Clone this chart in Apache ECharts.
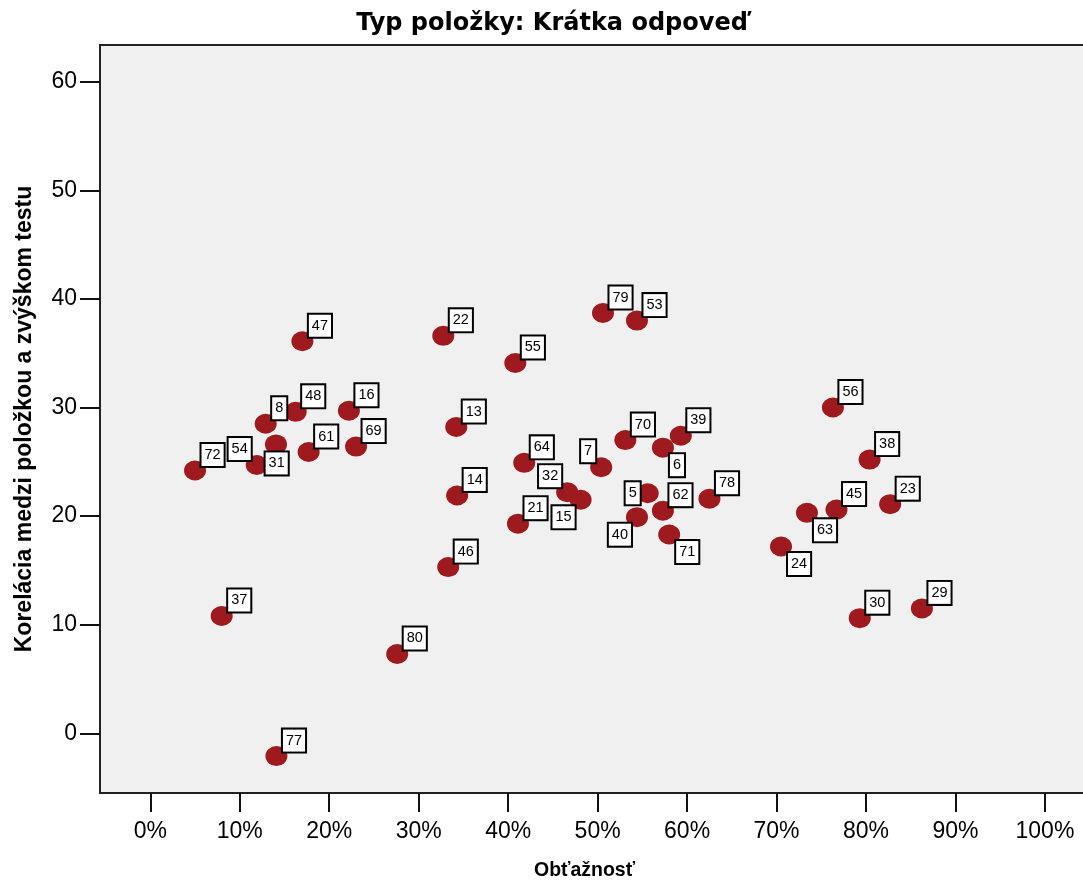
<!DOCTYPE html>
<html><head><meta charset="utf-8">
<script src="https://cdn.jsdelivr.net/npm/echarts@6/dist/echarts.min.js"></script>
<style>html,body{margin:0;padding:0;background:#fff;overflow:hidden}#c{width:1083px;height:884px}</style>
</head><body><div id="c"></div>
<script>
// Item numbers, difficulty (%), item-rest correlation (x100)
const itemIds = ['72','54','31','8','48','47','61','16','69','37','77','80','22','13','14','46','55','64','32','15','21','7','79','53','70','39','6','5','40','62','71','78','24','63','56','45','38','23','30','29'];
const difficulty = [5.0,11.9,14.05,12.9,16.25,17.0,17.7,22.2,23.0,7.98,14.1,27.6,32.75,34.2,34.3,33.3,40.8,41.8,46.6,48.1,41.1,50.4,50.6,54.4,53.1,59.3,57.3,55.6,54.4,57.3,58.0,62.5,70.5,73.4,76.3,76.7,80.4,82.7,79.3,86.25];
const correlation = [24.2,24.7,26.6,28.5,29.6,36.1,25.9,29.7,26.4,10.8,-2.1,7.3,36.6,28.2,21.9,15.3,34.1,24.9,22.2,21.5,19.3,24.5,38.7,38.0,27.0,27.4,26.3,22.1,19.9,20.5,18.3,21.6,17.2,20.3,30.0,20.6,25.2,21.1,10.6,11.5];
// which side of the marker the item label sits on
const labelSide = ['ur','ul','b','ur','ur','ur','ur','ur','ur','ur','ur','ur','ur','ur','ur','ur','ur','ur','ul','ll','ur','ul','ur','ur','ur','ur','lr','l','ll','ur','lr','ur','lr','lr','ur','ur','ur','ur','ur','ur'];
const xTicks = [0,10,20,30,40,50,60,70,80,90,100];
const yTicks = [0,10,20,30,40,50,60];
const titleText = 'Typ položky: Krátka odpoveď';
const xName = 'Obťažnosť';
const yName = 'Korelácia medzi položkou a zvýškom testu';

const placements = {
  ur: {position: [17.5, 5.5], align: 'left', verticalAlign: 'bottom'},
  ul: {position: [5, 5], align: 'right', verticalAlign: 'bottom'},
  lr: {position: [18, 16.5], align: 'left', verticalAlign: 'top'},
  ll: {position: [5, 16.5], align: 'right', verticalAlign: 'top'},
  l:  {position: [3, 10], align: 'right', verticalAlign: 'middle'},
  b:  {position: [11.7, 18], align: 'center', verticalAlign: 'top'}
};

const data = itemIds.map((id, i) => ({
  value: [difficulty[i], correlation[i]],
  name: id,
  label: Object.assign({}, placements[labelSide[i]])
}));

const chart = echarts.init(document.getElementById('c'), null, {renderer: 'canvas', width: 1083, height: 884});
chart.setOption({
  animation: false,
  backgroundColor: '#ffffff',
  title: {
    text: titleText,
    left: 547, top: 7, textAlign: 'center',
    textStyle: {fontFamily: 'DejaVu Sans', fontWeight: 'bold', fontSize: 24, color: '#000'}
  },
  grid: {
    left: 100, right: -3, top: 45, bottom: 91,
    containLabel: false, outerBoundsMode: 'none',
    show: true, backgroundColor: '#f0f0f0', borderColor: '#222', borderWidth: 2
  },
  xAxis: {
    type: 'value', min: -5.62, max: 104.59,
    name: xName, nameLocation: 'middle', nameGap: 68,
    nameTextStyle: {fontFamily: 'Liberation Sans', fontWeight: 'bold', fontSize: 19.5, color: '#000',
      padding: [0, 17, 0, 0]},
    axisLine: {show: false, onZero: false},
    splitLine: {show: false},
    axisTick: {show: true, length: 19, customValues: xTicks, lineStyle: {color: '#111', width: 2}},
    axisLabel: {customValues: xTicks, formatter: '{value}%', margin: 27,
      fontFamily: 'Liberation Sans', fontSize: 23, color: '#000'}
  },
  yAxis: {
    type: 'value', min: -5.5, max: 63.38,
    name: yName, nameLocation: 'middle', nameGap: 64,
    nameTextStyle: {fontFamily: 'Liberation Sans', fontWeight: 'bold', fontSize: 23, color: '#000'},
    axisLine: {show: false, onZero: false},
    splitLine: {show: false},
    axisTick: {show: true, length: 20, customValues: yTicks, lineStyle: {color: '#111', width: 2}},
    axisLabel: {customValues: yTicks, margin: 23,
      fontFamily: 'Liberation Sans', fontSize: 23, color: '#000'}
  },
  series: [{
    type: 'scatter',
    symbol: 'circle',
    symbolSize: [22, 20],
    itemStyle: {color: '#9f1a1f', opacity: 1},
    label: {
      show: true,
      formatter: p => p.name,
      fontFamily: 'Liberation Sans', fontSize: 14.5, color: '#000',
      backgroundColor: '#ffffff', borderColor: '#000', borderWidth: 2,
      padding: [4, 3, 4, 3], lineHeight: 14
    },
    data: data
  }]
});
</script></body></html>
